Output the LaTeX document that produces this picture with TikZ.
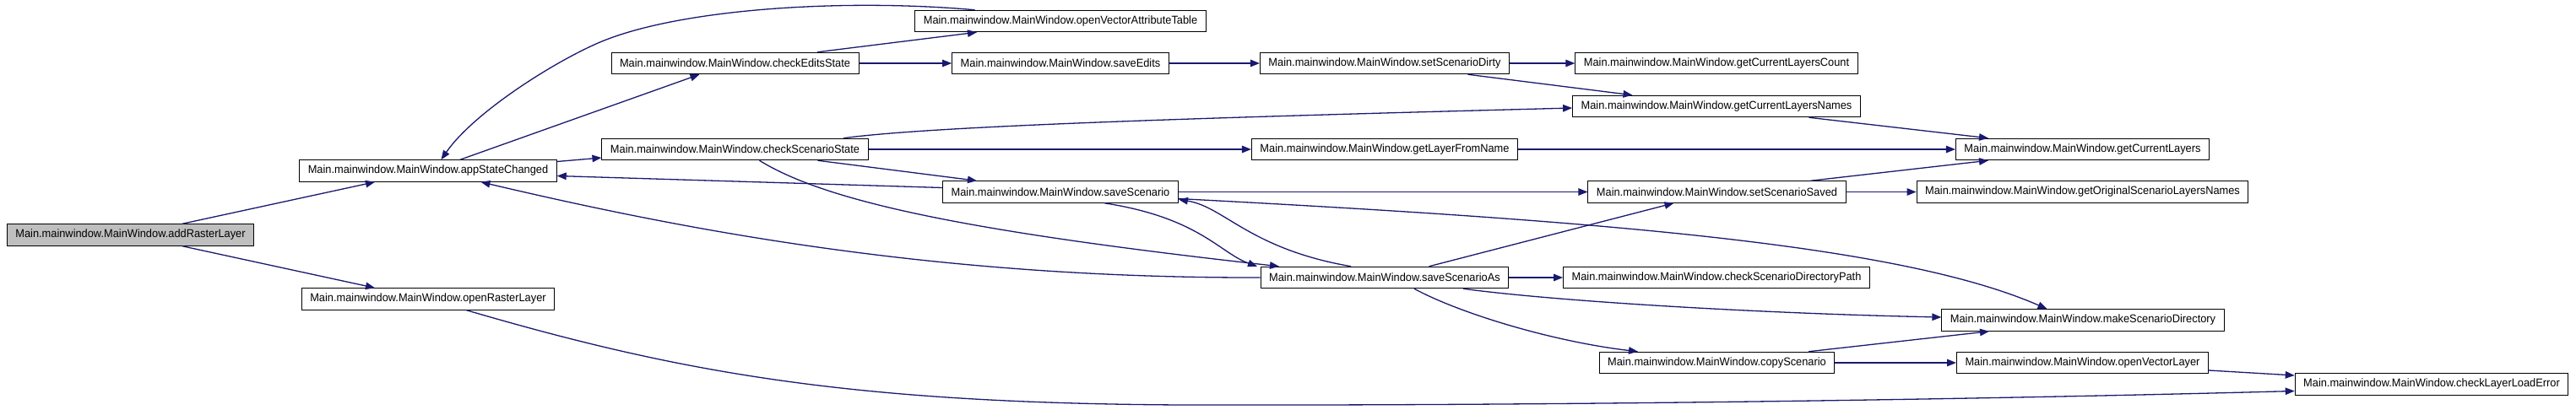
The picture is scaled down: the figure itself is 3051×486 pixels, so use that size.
\documentclass[tikz,border=0pt]{standalone}
\usepackage{fontspec}
\setmainfont{Liberation Sans}[FakeStretch=0.95]
\usetikzlibrary{arrows.meta}
\definecolor{edgeblue}{HTML}{191970}
\definecolor{rootgray}{HTML}{BFBFBF}
\begin{document}
\begin{tikzpicture}[x=1pt,y=-1pt,
  fn/.style={draw=black,line width=1pt,fill=white,minimum height=25.5pt,inner xsep=10pt,inner ysep=0pt,
    font=\fontsize{13.5}{15}\selectfont,text=black},
  root/.style={fn,fill=rootgray},
  call/.style={draw=edgeblue,line width=1.3pt,-{Triangle[length=11pt,width=8.5pt]},fill=none}]
\useasboundingbox (0,0) rectangle (3051,486);
\fill[white] (0,0) rectangle (3051,486);
% nodes
\node[root] (A) at (154.5,278.5) {Main.mainwindow.MainWindow.addRasterLayer};
\node[fn] (B) at (507,202.5) {Main.mainwindow.MainWindow.appStateChanged};
\node[fn] (C) at (507,354.5) {Main.mainwindow.MainWindow.openRasterLayer};
\node[fn] (D) at (1256,25) {Main.mainwindow.MainWindow.openVectorAttributeTable};
\node[fn] (E) at (870.5,75) {Main.mainwindow.MainWindow.checkEditsState};
\node[fn] (F) at (1256,75) {Main.mainwindow.MainWindow.saveEdits};
\node[fn] (G) at (870.5,177) {Main.mainwindow.MainWindow.checkScenarioState};
\node[fn] (H) at (1256,227.5) {Main.mainwindow.MainWindow.saveScenario};
\node[fn] (I) at (1640,75) {Main.mainwindow.MainWindow.setScenarioDirty};
\node[fn] (J) at (2033,75) {Main.mainwindow.MainWindow.getCurrentLayersCount};
\node[fn] (K) at (2033,126) {Main.mainwindow.MainWindow.getCurrentLayersNames};
\node[fn] (L) at (1640,177) {Main.mainwindow.MainWindow.getLayerFromName};
\node[fn] (M) at (2033.5,227.5) {Main.mainwindow.MainWindow.setScenarioSaved};
\node[fn] (N) at (2466.5,177) {Main.mainwindow.MainWindow.getCurrentLayers};
\node[fn] (O) at (2466.5,227.5) {Main.mainwindow.MainWindow.getOriginalScenarioLayersNames};
\node[fn] (P) at (1640,329) {Main.mainwindow.MainWindow.saveScenarioAs};
\node[fn] (Q) at (2467,379.5) {Main.mainwindow.MainWindow.makeScenarioDirectory};
\node[fn] (R) at (2033,329) {Main.mainwindow.MainWindow.checkScenarioDirectoryPath};
\node[fn] (S) at (2033.5,430) {Main.mainwindow.MainWindow.copyScenario};
\node[fn] (T) at (2466.5,430) {Main.mainwindow.MainWindow.openVectorLayer};
\node[fn] (U) at (2880,455.5) {Main.mainwindow.MainWindow.checkLayerLoadError};
% edges
\draw[call] ([xshift=61.5pt]A.north) -- ([xshift=-63pt]B.south);
\draw[call] ([xshift=61.5pt]A.south) -- ([xshift=-63pt]C.north);
\draw[call] ([xshift=38pt]B.north) -- ([xshift=-42pt]E.south);
\draw[call] ([yshift=11pt]B.east) -- ([yshift=-10pt]G.west);
\draw[call] ([xshift=97.5pt]E.north) -- ([xshift=-99pt]D.south);
\draw[call] (E.east) -- (F.west);
\draw[call] ([xshift=-101.5pt]D.north) .. controls (1000,-2) and (800,10) .. (706,52)
  .. controls (650,77) and (560,135) .. ([xshift=15.5pt]B.north);
\draw[call] (F.east) -- (I.west);
\draw[call] (I.east) -- (J.west);
\draw[call] ([xshift=98.5pt]I.south) -- ([xshift=-99.5pt]K.north);
\draw[call] ([xshift=128.5pt]G.north) .. controls (1100,150) and (1400,140) .. ([yshift=-2pt]K.west);
\draw[call] (G.east) -- (L.west);
\draw[call] ([xshift=98pt]G.south) -- ([xshift=-99pt]H.north);
\draw[call] ([xshift=29pt]G.south) .. controls (980,240) and (1150,275) .. ([xshift=-125pt]P.north);
\draw[call] ([xshift=109.5pt]K.south) -- ([xshift=-111.5pt]N.north);
\draw[call] (L.east) -- (N.west);
\draw[call] ([yshift=5pt]H.west) -- ([yshift=-6pt]B.east);
\draw[call] (H.east) -- (M.west);
\draw[call] ([xshift=52pt]H.south) .. controls (1420,258) and (1445,300) .. ([xshift=-151pt]P.north);
\draw[call] ([yshift=-8pt]H.east) .. controls (1900,262) and (2250,290) .. ([xshift=-42.5pt]Q.north);
\draw[call] (P.west) .. controls (1100,330) and (800,270) .. ([xshift=62.5pt]B.south);
\draw[call] ([xshift=-40pt]P.north) .. controls (1480,295) and (1450,245) .. ([yshift=-9pt]H.east);
\draw[call] ([xshift=52.6pt]P.north) -- ([xshift=-51pt]M.south);
\draw[call] (P.east) -- (R.west);
\draw[call] ([xshift=93pt]P.south) .. controls (1850,358) and (2100,372) .. ([yshift=3.5pt]Q.west);
\draw[call] ([xshift=35pt]P.south) .. controls (1730,372) and (1840,405) .. ([xshift=-93.5pt]S.north);
\draw[call] ([xshift=111pt]M.north) -- ([xshift=-111.5pt]N.south);
\draw[call] (M.east) -- (O.west);
\draw[call] ([xshift=108.5pt]S.north) -- ([xshift=-111pt]Q.south);
\draw[call] (S.east) -- (T.west);
\draw[call] ([yshift=-9pt]T.east) -- ([yshift=10.5pt]U.west);
\draw[call] ([xshift=45.6pt]C.south) .. controls (800,440) and (1000,478) .. (1400,480)
  .. controls (1900,481) and (2400,472) .. ([yshift=-8pt]U.west);
\end{tikzpicture}
\end{document}
